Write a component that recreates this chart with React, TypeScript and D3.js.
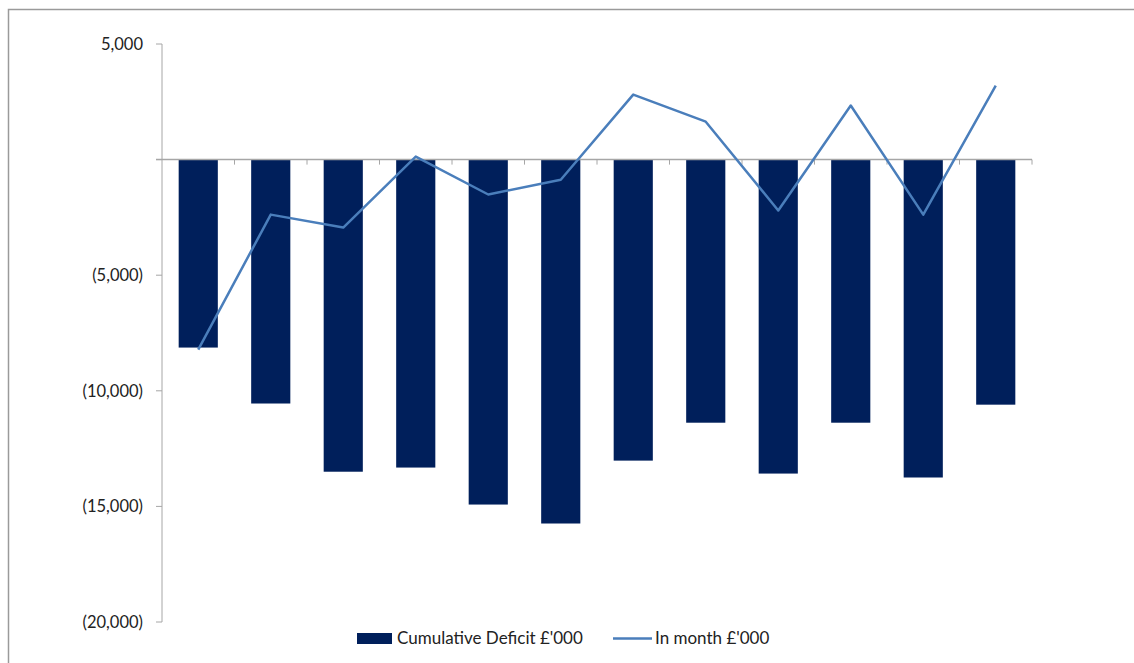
import React from "react";
import * as d3 from "d3";

const categories = ["M1", "M2", "M3", "M4", "M5", "M6", "M7", "M8", "M9", "M10", "M11", "M12"];
const cumulativeDeficit = [-8130, -10550, -13500, -13320, -14920, -15740, -13020, -11380, -13580, -11380, -13750, -10600];
const inMonth = [-8220, -2380, -2940, 130, -1510, -870, 2810, 1640, -2200, 2340, -2380, 3200];
const yTicks = [5000, 0, -5000, -10000, -15000, -20000];

const W = 1134;
const H = 663;
const left = 162;
const right = 1032;
const yTop = 44;
const yBottom = 622;

const fmt = (v: number) => {
  if (v === 0) return "";
  const s = d3.format(",")(Math.abs(v));
  return v < 0 ? `(${s})` : s;
};

export default function App() {
  const x = d3.scaleBand<string>().domain(categories).range([left, right]).paddingInner(0.46).paddingOuter(0.23);
  const xc = d3.scaleBand<string>().domain(categories).range([left, right]);
  const y = d3.scaleLinear().domain([-20000, 5000]).range([yBottom, yTop]);
  const line = d3
    .line<number>()
    .x((_, i) => (xc(categories[i]) as number) + xc.bandwidth() / 2)
    .y((d) => y(d));
  const font = "Lato, 'Open Sans', sans-serif";
  const axisColor = "#a6a6a6";
  return (
    <svg width={W} height={H} style={{ position: "absolute", left: 0, top: 0, background: "#fff" }}>
      <rect x={8.5} y={9.5} width={W + 10} height={H + 10} fill="none" stroke="#9a9a9a" strokeWidth={1.5} />
      {/* y axis */}
      <line x1={left} x2={left} y1={yTop} y2={yBottom} stroke={axisColor} strokeWidth={1} />
      {yTicks.map((t) => (
        <g key={t}>
          <line x1={left - 6} x2={left} y1={y(t)} y2={y(t)} stroke={axisColor} />
          <text x={143} y={y(t)} dy="0.35em" textAnchor="end" fontFamily={font} fontSize={16.5} fill="#222">
            {fmt(t)}
          </text>
        </g>
      ))}
      {/* bars */}
      {cumulativeDeficit.map((v, i) => (
        <rect
          key={categories[i]}
          x={x(categories[i])}
          y={y(0)}
          width={x.bandwidth()}
          height={y(v) - y(0)}
          fill="#001f5b"
        />
      ))}
      {/* x axis */}
      <line x1={left - 6} x2={right} y1={y(0)} y2={y(0)} stroke={axisColor} strokeWidth={1.5} />
      {categories.map((c) => (
        <line
          key={c}
          x1={(xc(c) as number) + xc.bandwidth()}
          x2={(xc(c) as number) + xc.bandwidth()}
          y1={y(0)}
          y2={y(0) + 5}
          stroke={axisColor}
        />
      ))}
      {/* line */}
      <path d={line(inMonth) || ""} fill="none" stroke="#4a7ebb" strokeWidth={2.5} strokeLinejoin="round" />
      {/* legend */}
      <rect x={357} y={633} width={35} height={11} fill="#001f5b" />
      <text x={397} y={638.5} dy="0.35em" fontFamily={font} fontSize={17} fill="#222">
        Cumulative Deficit £'000
      </text>
      <line x1={613} x2={652} y1={638.5} y2={638.5} stroke="#4a7ebb" strokeWidth={2.5} />
      <text x={655} y={638.5} dy="0.35em" fontFamily={font} fontSize={17} fill="#222">
        In month £'000
      </text>
    </svg>
  );
}
